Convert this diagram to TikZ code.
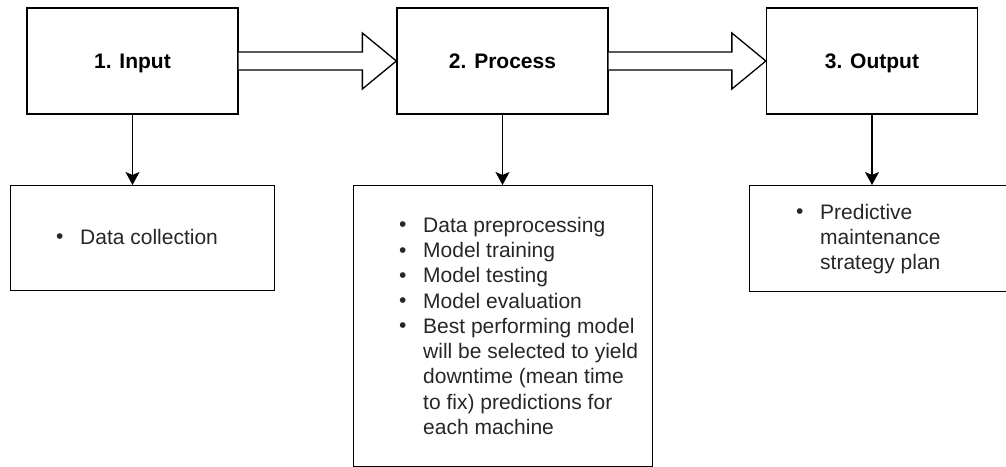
\documentclass[tikz,border=0pt]{standalone}
\usepackage{fontspec}
\setmainfont{Liberation Sans}
\usetikzlibrary{calc,arrows.meta}

% bullet item with a fixed indent, and a continuation line at the same indent
\newcommand{\bul}[1]{\makebox[24pt][l]{\raisebox{0.5pt}{\textbullet}}#1}
\newcommand{\cont}[1]{\hspace*{24pt}#1}

\tikzset{
  stage/.style={draw, line width=1.3pt, minimum width=211pt, minimum height=106pt,
    inner sep=0pt, text height=16pt, text depth=2pt,
    font=\fontsize{21}{25}\selectfont\bfseries},
  detail/.style={draw, line width=1.3pt, inner sep=0pt, anchor=north west},
  bullets/.style={anchor=north west, inner sep=0pt, align=left,
    text=black!85, font=\fontsize{21}{25.25}\selectfont},
  fat/.style={draw, line width=1.3pt, fill=white, line join=miter},
  down/.style={draw, line width=1.3pt, -{Stealth[length=13pt,width=14pt,inset=3pt]}}
}

\begin{document}
\begin{tikzpicture}[x=1pt,y=-1pt]
  \useasboundingbox (0,0) rectangle (1006,466);

  % three stages
  \node[stage] (in)   at (132.5,61) {1. Input};
  \node[stage] (proc) at (502.5,61) {2. Process};
  \node[stage] (out)  at (872,61)   {3. Output};

  % detail boxes below each stage
  \node[detail, minimum width=264pt, minimum height=105pt] (dcol) at (10,185) {};
  \node[detail, minimum width=299pt, minimum height=281pt] (dproc) at (353,185) {};
  \node[detail, minimum width=263pt, minimum height=106pt] (dout) at (749,185) {};

  \node[bullets] (tcol) at ($(dcol.north west)+(46,44)$) {\bul{Data collection}};
  \node[bullets] (tproc) at ($(dproc.north west)+(46,32)$) {%
    \bul{Data preprocessing}\\
    \bul{Model training}\\
    \bul{Model testing}\\
    \bul{Model evaluation}\\
    \bul{Best performing model}\\
    \cont{will be selected to yield}\\
    \cont{downtime (mean time}\\
    \cont{to fix) predictions for}\\
    \cont{each machine}};
  \node[bullets] (tout) at ($(dout.north west)+(47,19)$) {%
    \bul{Predictive}\\
    \cont{maintenance}\\
    \cont{strategy plan}};

  % hollow block arrows between stages
  \draw[fat] ($(in.east)+(0,-9)$) -- ($(proc.west)+(-34,-9)$) -- ($(proc.west)+(-34,-28)$)
    -- (proc.west) -- ($(proc.west)+(-34,28)$) -- ($(proc.west)+(-34,9)$)
    -- ($(in.east)+(0,9)$);
  \draw[fat] ($(proc.east)+(0,-9)$) -- ($(out.west)+(-34,-9)$) -- ($(out.west)+(-34,-28)$)
    -- (out.west) -- ($(out.west)+(-34,28)$) -- ($(out.west)+(-34,9)$)
    -- ($(proc.east)+(0,9)$);

  % stage to detail connectors
  \draw[down] (in.south) -- (in.south |- dcol.north);
  \draw[down] (proc.south) -- (proc.south |- dproc.north);
  \draw[down] (out.south) -- (out.south |- dout.north);
\end{tikzpicture}
\end{document}
